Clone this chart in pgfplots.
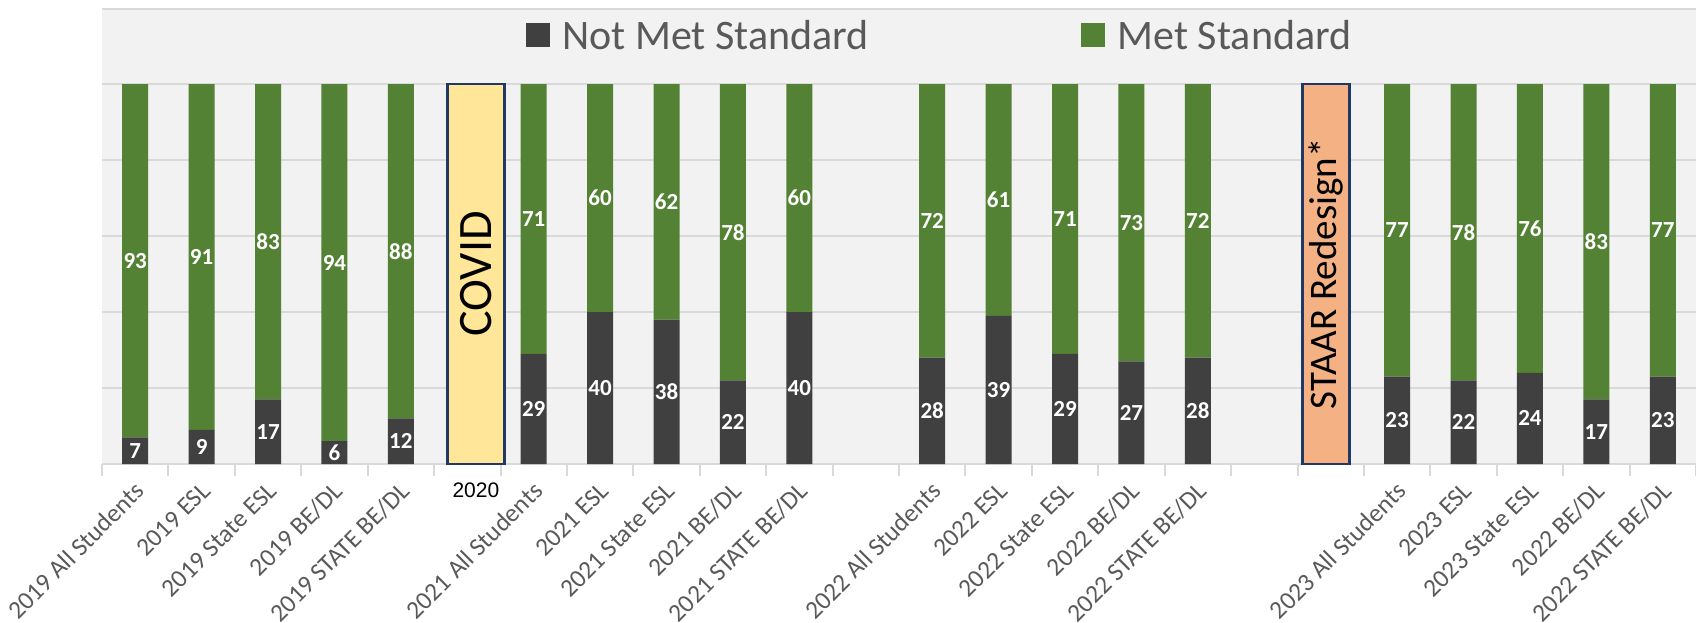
\documentclass[border=0pt]{standalone}
\usepackage{pgfplots}
\pgfplotsset{compat=1.18}
\usepackage{pgfplotstable}
\usepackage{fontspec}
\setmainfont{Carlito}
\newfontfamily\arialf{Liberation Sans}
\definecolor{metgreen}{HTML}{548235}
\definecolor{notmet}{HTML}{404040}
\definecolor{bggray}{HTML}{F2F2F2}
\definecolor{gridgray}{HTML}{D9D9D9}
\definecolor{labelgray}{HTML}{595959}
\definecolor{covidfill}{HTML}{FFE699}
\definecolor{staarfill}{HTML}{F4B183}
\definecolor{navy}{HTML}{1F3864}

\pgfplotstableread{
x nm met
0 7 93
1 9 91
2 17 83
3 6 94
4 12 88
6 29 71
7 40 60
8 38 62
9 22 78
10 40 60
12 28 72
13 39 61
14 29 71
15 27 73
16 28 72
19 23 77
20 22 78
21 24 76
22 17 83
23 23 77
}\datatable

\begin{document}
\begin{tikzpicture}
\useasboundingbox (0,0) rectangle (848pt,311pt);
\fill[bggray] (51pt,79pt) rectangle (848pt,306.5pt);
\draw[gridgray, line width=0.8pt] (51pt,306.5pt) -- (848pt,306.5pt);
\begin{axis}[
  at={(51pt,79pt)}, anchor=south west,
  scale only axis, width=797pt, height=190pt,
  xmin=-0.5, xmax=23.5, ymin=0, ymax=100,
  ybar stacked, bar width=13pt,
  axis x line*=bottom, axis y line*=left,
  x axis line style={draw=gridgray, line width=1pt, -},
  y axis line style={draw=none},
  ytick={0,20,...,100}, yticklabels={},
  ytick style={draw=none},
  ymajorgrids, grid style={gridgray, line width=1pt},
  xtick={0,...,23},
  xticklabels={2019 All Students, 2019 ESL, 2019 State ESL, 2019 BE/DL, 2019 STATE BE/DL, , 2021 All Students, 2021 ESL, 2021 State ESL, 2021 BE/DL, 2021 STATE BE/DL, , 2022 All Students, 2022 ESL, 2022 State ESL, 2022 BE/DL, 2022 STATE BE/DL, , , 2023 All Students, 2023 ESL, 2023 State ESL, 2022 BE/DL, 2022 STATE BE/DL},
  major x tick style={draw=none},
  minor xtick={-0.5,0.5,...,23.5},
  minor x tick style={draw=gridgray, line width=1pt},
  tick align=outside, minor tick length=6pt,
  xticklabel style={rotate=45, anchor=east, font=\fontsize{12.7}{14}\selectfont, text=labelgray, yshift=-6.5pt, xshift=0pt},
  legend style={at={(0.526,1.126)}, anchor=center, draw=none, fill=none, legend columns=2, font=\fontsize{21}{24}\selectfont, text=labelgray, /tikz/every even column/.append style={column sep=104pt}, nodes={inner sep=2pt}},
  legend image code/.code={\fill[#1] (0pt,-5.3pt) rectangle (12pt,6.7pt); \path (16.5pt,0pt);},
]
\addplot[fill=notmet, draw=none] table[x=x, y=nm] {\datatable};
\addplot[fill=metgreen, draw=none] table[x=x, y=met] {\datatable};
\legend{Not Met Standard, Met Standard}
\end{axis}
\begin{axis}[
  at={(51pt,79pt)}, anchor=south west,
  scale only axis, width=797pt, height=190pt,
  xmin=-0.5, xmax=23.5, ymin=0, ymax=100,
  hide axis, clip=false,
  nodes near coords={\pgfplotspointmeta},
  nodes near coords style={font=\fontsize{11.5}{13}\selectfont\bfseries, text=white, anchor=center},
]
\addplot[only marks, mark=none, nodes near coords, point meta=explicit symbolic] table[x=x, y expr=\thisrow{nm}/2, meta=nm] {\datatable};
\addplot[only marks, mark=none, nodes near coords, point meta=explicit symbolic] table[x=x, y expr=\thisrow{nm}+\thisrow{met}/2, meta=met] {\datatable};
\draw[fill=covidfill, draw=navy, line width=1.3pt] (axis cs:4.70,0) rectangle (axis cs:5.56,100);
\node[rotate=90, font=\fontsize{24}{28}\selectfont] at (axis cs:5.13,50) {COVID};
\draw[fill=staarfill, draw=navy, line width=1.3pt] (axis cs:17.575,0) rectangle (axis cs:18.28,100);
\node[rotate=90, font=\fontsize{19.5}{22}\selectfont] at (axis cs:17.93,50) {STAAR Redesign*};
\node[font=\arialf\fontsize{10.5}{12}\selectfont, yshift=-13pt] at (axis cs:5.13,0) {2020};
\end{axis}
\end{tikzpicture}
\end{document}
